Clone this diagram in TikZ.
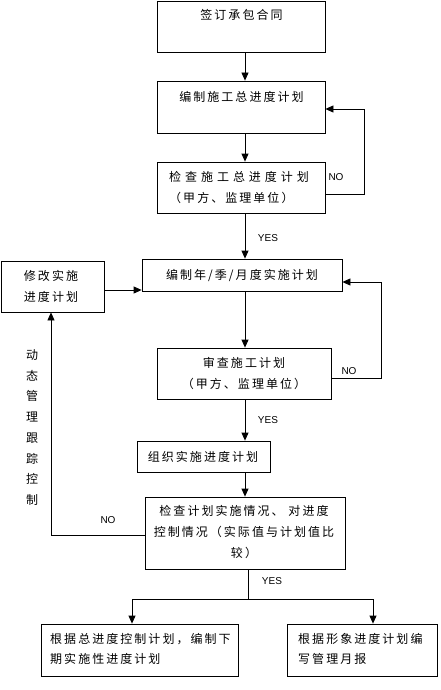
\documentclass[tikz,border=0pt]{standalone}
\usepackage{fontspec}
\setmainfont{Noto Sans CJK SC}
\newfontfamily\cjks[LetterSpace=17]{Noto Sans CJK SC}
\newfontfamily\cjkw[LetterSpace=33]{Noto Sans CJK SC}
\newfontfamily\latf{Liberation Sans}
\usetikzlibrary{arrows.meta}
\tikzset{
  box/.style={draw, line width=0.8pt, inner sep=0pt, anchor=center},
  txt/.style={inner sep=0pt, font={\cjks\fontsize{12}{21}\selectfont}},
  lab/.style={inner sep=0pt, font={\latf\fontsize{10}{12}\selectfont}},
  arr/.style={line width=0.8pt, -{Triangle[length=8pt,width=7pt]}},
  ln/.style={line width=0.8pt}
}
\begin{document}
\begin{tikzpicture}[x=1pt,y=-1pt]
\useasboundingbox (0,0) rectangle (440,690);
% boxes
\node[box, minimum width=168pt, minimum height=51pt] (b1) at (241,26.5) {};
\node[box, minimum width=168pt, minimum height=52pt] (b2) at (241,107) {};
\node[box, minimum width=168pt, minimum height=51pt] (b3) at (241,187.5) {};
\node[box, minimum width=200pt, minimum height=32pt] (b4) at (242,275) {};
\node[box, minimum width=103pt, minimum height=51pt] (bL) at (52.5,286.5) {};
\node[box, minimum width=174pt, minimum height=51pt] (b5) at (244,373.5) {};
\node[box, minimum width=133pt, minimum height=31pt] (b6) at (203.5,456.5) {};
\node[box, minimum width=200pt, minimum height=72pt] (b7) at (245,533) {};
\node[box, minimum width=197pt, minimum height=52pt] (b8) at (139.5,650) {};
\node[box, minimum width=150pt, minimum height=52pt] (b9) at (362,650) {};
% texts
\node[txt] (t1) at (241.5,15) {签订承包合同};
\node[txt] (t2) at (241.5,97) {编制施工总进度计划};
\node[txt, align=left, anchor=west] (t3) at (169,187.5) {{\cjkw 检查施工总进度计划}\\（甲方、监理单位）};
\node[txt] (t4) at (242,275) {编制年/季/月度实施计划};
\node[txt, align=center] (tL) at (51,286) {修改实施\\进度计划};
\node[txt, align=center] (t5) at (244,373) {审查施工计划\\（甲方、监理单位）};
\node[txt] (t6) at (203,457) {组织实施进度计划};
\node[txt, align=center] (t7) at (244,532) {检查计划实施情况、 对进度\\控制情况（实际值与计划值比\\较）};
\node[txt, align=left, anchor=west, font={\cjks\fontsize{12}{20}\selectfont}] (t8) at (50,649) {根据总进度控制计划，编制下\\期实施性进度计划};
\node[txt, align=left, anchor=west, font={\cjks\fontsize{12}{20}\selectfont}] (t9) at (298,649) {根据形象进度计划编\\写管理月报};
\node[txt, align=center, font={\cjks\fontsize{12}{20.7}\selectfont}] (tv) at (32,427.5) {动\\态\\管\\理\\跟\\踪\\控\\制};
% labels
\node[lab] (no1) at (336,177) {NO};
\node[lab] (yes1) at (268,238) {YES};
\node[lab] (no2) at (349,371) {NO};
\node[lab] (yes2) at (268,420) {YES};
\node[lab] (no3) at (108,520) {NO};
\node[lab] (yes3) at (272,581) {YES};
% connectors
\coordinate (ax) at (245,0);
\draw[arr] (b1.south -| ax) -- (b2.north -| ax);
\draw[arr] (b2.south -| ax) -- (b3.north -| ax);
\draw[arr] (b3.south -| ax) -- (b4.north -| ax);
\draw[arr] (b4.south -| ax) -- (b5.north -| ax);
\draw[arr] (b5.south -| ax) -- (b6.north -| ax);
\draw[arr] (b6.south -| ax) -- (b7.north -| ax);
\coordinate (r1a) at (364,194);
\coordinate (r1b) at (364,109);
\draw[arr] (b3.east |- r1a) -- (r1a) -- (r1b) -- (b2.east |- r1b);
\coordinate (r2a) at (381,378);
\coordinate (r2b) at (381,282);
\draw[arr] (b5.east |- r2a) -- (r2a) -- (r2b) -- (b4.east |- r2b);
\coordinate (lA) at (0,290);
\draw[arr] (bL.east |- lA) -- (b4.west |- lA);
\coordinate (lN) at (51,535);
\draw[arr] (b7.west |- lN) -- (lN) -- (bL.south -| lN);
\coordinate (sp) at (248,599);
\coordinate (spL) at (132,599);
\coordinate (spR) at (373,599);
\draw[ln] (b7.south -| sp) -- (sp);
\draw[ln] (spL) -- (spR);
\draw[arr] (spL) -- (b8.north -| spL);
\draw[arr] (spR) -- (b9.north -| spR);
\end{tikzpicture}
\end{document}
